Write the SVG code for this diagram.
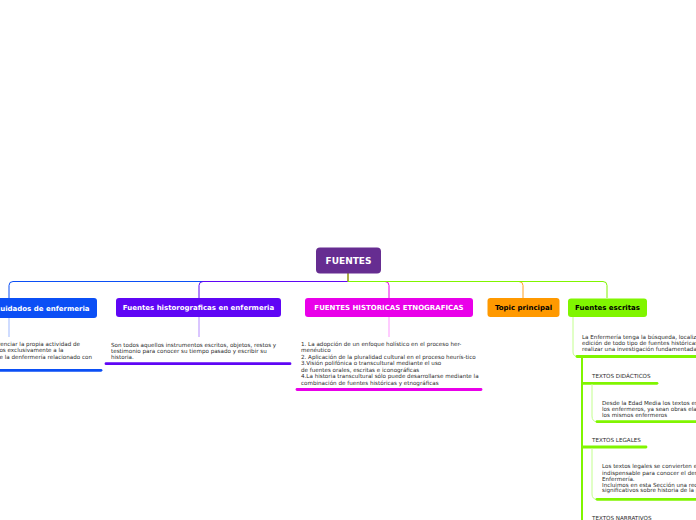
<svg xmlns="http://www.w3.org/2000/svg" width="696" height="520" viewBox="0 0 696 520">
<style>
.lbl{font-family:"DejaVu Sans",Verdana,sans-serif;font-weight:bold;font-size:7px}
.w{fill:#fff}
.k{fill:#000}
.d{font-family:"DejaVu Sans",Verdana,sans-serif;font-size:5.6px;fill:#2a2a2a}
.c{fill:none;stroke-width:1}
.u{fill:none;stroke-width:2.8;stroke-linecap:round}
</style>
<rect width="696" height="520" fill="#fff"/>
<g id="connectors">
  <path class="c" stroke="#0b4ff5" d="M348,273 V281.5 H13 Q9,281.5 9,285.5 V298"/>
  <path class="c" stroke="#5f06f5" d="M348,273 V281.5 H203 Q199,281.5 199,285.5 V298"/>
  <path class="c" stroke="#e900e9" d="M348,273 V281.5 H385 Q389,281.5 389,285.5 V298"/>
  <path class="c" stroke="#ffa020" d="M348,273 V281.5 H519 Q523,281.5 523,285.5 V298"/>
  <path class="c" stroke="#80f500" d="M348,273 V281.5 H603 Q607,281.5 607,285.5 V298"/>
  <line class="c" stroke="#9fb9ff" x1="9" y1="318" x2="9" y2="337"/>
  <line class="c" stroke="#b58cff" x1="199" y1="317" x2="199" y2="337"/>
  <line class="c" stroke="#ff99ff" x1="389" y1="317" x2="389" y2="337"/>
  <path class="c" stroke="#c2ff8c" d="M573,317 V352 Q573,356.5 578,356.5"/>
  <path class="u" stroke="#0b4ff5" d="M-2,370.3 H101"/>
  <path class="u" stroke="#5f06f5" d="M106,363.7 H290"/>
  <path class="u" stroke="#e900e9" d="M297,389.5 H481"/>
  <path class="u" stroke="#80f500" d="M577,356.5 H700"/>
  <path fill="none" stroke="#80f500" stroke-width="2" d="M582,357 V522"/>
  <path class="u" stroke="#80f500" d="M583,383.3 H657"/>
  <path class="c" stroke="#c2ff8c" d="M592,384 V416 Q592,421.7 597,421.7"/>
  <path class="u" stroke="#80f500" d="M597,421.7 H700"/>
  <path class="u" stroke="#80f500" d="M583,447 H646"/>
  <path class="c" stroke="#c2ff8c" d="M592,448 V494 Q592,499.3 597,499.3"/>
  <path class="u" stroke="#80f500" d="M597,499.3 H700"/>
</g>
<g id="root">
  <rect x="316" y="247.5" width="65" height="26" rx="4" fill="#662d91"/>
  <text class="lbl w" x="348.5" y="264" text-anchor="middle" style="font-size:9px">FUENTES</text>
</g>
<g id="node-cuidados">
  <rect x="-90" y="298" width="187" height="20" rx="3" fill="#0b4ff5"/>
  <text class="lbl w" x="89.5" y="310.5" text-anchor="end">Historia de los cuidados de enfermeria</text>
  <text class="d" x="80" y="346" text-anchor="end">Permite diferenciar la propia actividad de</text>
  <text class="d" x="63.5" y="352.2" text-anchor="end">los cuidados exclusivamente a la</text>
  <text class="d" x="92" y="358.5" text-anchor="end">historia de la denfermería relacionado con</text>
</g>
<g id="node-historograficas">
  <rect x="116" y="298" width="165" height="19" rx="3" fill="#5f06f5"/>
  <text class="lbl w" x="198.5" y="310" text-anchor="middle">Fuentes historograficas en enfermeria</text>
  <text class="d" x="111" y="346.5">Son todos aquellos instrumentos escritos, objetos, restos y</text>
  <text class="d" x="111" y="352.5">testimonio para conocer su tiempo pasado y escribir su</text>
  <text class="d" x="111" y="358.7">historia.</text>
</g>
<g id="node-etnograficas">
  <rect x="305" y="298" width="168" height="19" rx="3" fill="#e900e9"/>
  <text class="lbl w" x="389" y="310" text-anchor="middle">FUENTES HISTORICAS ETNOGRAFICAS</text>
  <text class="d" x="301" y="346">1. La adopción de un enfoque holístico en el proceso her-</text>
  <text class="d" x="301" y="352.3">menéutico</text>
  <text class="d" x="301" y="359">2. Aplicación de la pluralidad cultural en el proceso heurís-tico</text>
  <text class="d" x="301" y="365">3.Visión polifónica o transcultural mediante el uso</text>
  <text class="d" x="301" y="371.8">de fuentes orales, escritas e iconográficas</text>
  <text class="d" x="301" y="378.2">4.La historia transcultural sólo puede desarrollarse mediante la</text>
  <text class="d" x="301" y="384.6">combinación de fuentes históricas y etnográficas</text>
</g>
<g id="node-topic">
  <rect x="487.5" y="298" width="72" height="19" rx="3" fill="#ff9900"/>
  <text class="lbl k" x="523.5" y="310" text-anchor="middle">Topic principal</text>
</g>
<g id="node-escritas">
  <rect x="568" y="298.5" width="79" height="18.5" rx="3" fill="#80f500"/>
  <text class="lbl k" x="607.5" y="310" text-anchor="middle">Fuentes escritas</text>
  <text class="d" x="582" y="339">La Enfermería tenga la búsqueda, localización y</text>
  <text class="d" x="582" y="345.3">edición de todo tipo de fuentes históricas para</text>
  <text class="d" x="582" y="351.3">realizar una investigación fundamentada en ellas</text>
</g>
<g id="node-didacticos">
  <text class="d" x="592" y="378">TEXTOS DIDÁCTICOS</text>
  <text class="d" x="602" y="404.7">Desde la Edad Media los textos escritos por</text>
  <text class="d" x="602" y="410.7">los enfermeros, ya sean obras elaboradas por</text>
  <text class="d" x="602" y="416.7">los mismos enfermeros</text>
</g>
<g id="node-legales">
  <text class="d" x="592" y="442">TEXTOS LEGALES</text>
  <text class="d" x="602" y="468">Los textos legales se convierten en un elemento</text>
  <text class="d" x="602" y="474.5">indispensable para conocer el desarrollo de la</text>
  <text class="d" x="602" y="480.5">Enfermería.</text>
  <text class="d" x="602" y="486.5">Incluimos en esta Sección una recopilación de</text>
  <text class="d" x="602" y="492.2">significativos sobre historia de la profesión</text>
</g>
<g id="node-narrativos">
  <text class="d" x="592" y="519.5">TEXTOS NARRATIVOS</text>
</g>
</svg>
